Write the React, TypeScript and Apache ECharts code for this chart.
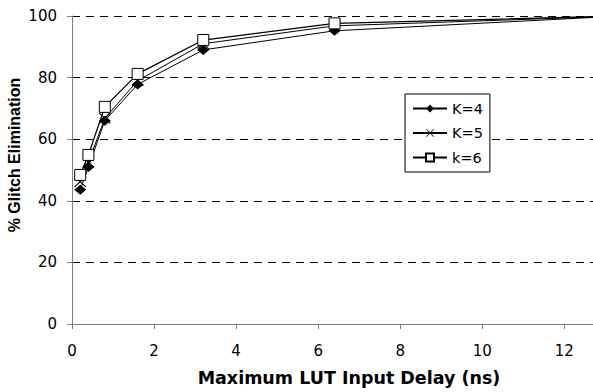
import React, { useEffect, useRef } from "react";
import * as echarts from "echarts";

const delays = [0.2, 0.4, 0.8, 1.6, 3.2, 6.4, 12.8];
const k4 = [43.6, 51, 66, 77.8, 89, 95.2, 99.6];
const k5 = [46.2, 52.5, 66.8, 79, 91, 96.8, 99.7];
const k6 = [48.4, 54.9, 70.5, 81.2, 92.2, 97.6, 99.8];
const xTicks = [0, 2, 4, 6, 8, 10, 12];

const FONT = "DejaVu Sans, sans-serif";
const ARIAL = "Liberation Sans, Arial, sans-serif";
const CROSS =
  "path://M0,0.8L0.8,0L6,5.2L11.2,0L12,0.8L6.8,6L12,11.2L11.2,12L6,6.8L0.8,12L0,11.2L5.2,6Z";

export default function App() {
  const ref = useRef<HTMLDivElement>(null);
  useEffect(() => {
    const chart = echarts.init(ref.current!, null, { renderer: "svg" });
    const mk = (arr: number[]) => arr.map((v, i) => [delays[i], v]);
    chart.setOption({
      animation: false,
      backgroundColor: "#fff",
      textStyle: { fontFamily: FONT },
      grid: { left: 72, top: 16, right: 0, bottom: 68, containLabel: false, outerBoundsMode: "none" },
      legend: {
        orient: "vertical",
        left: 405,
        top: 94,
        backgroundColor: "#fff",
        borderColor: "#000",
        borderWidth: 1,
        borderRadius: 0,
        padding: [7, 7, 7, 7],
        itemGap: 9.5,
        itemWidth: 34,
        itemHeight: 10,
        textStyle: { fontFamily: FONT, fontSize: 14.5, lineHeight: 14, color: "#000" },
        data: ["K=4", "K=5", "k=6"],
      },
      xAxis: {
        type: "value",
        min: 0,
        max: 12.7,
        interval: 2,
        name: "Maximum LUT Input Delay (ns)",
        nameLocation: "middle",
        nameGap: 45,
        nameMoveOverlap: false,
        nameTextStyle: { fontFamily: FONT, fontSize: 17.5, fontWeight: "bold", color: "#000", padding: [0, 0, 0, 33] },
        axisLine: { lineStyle: { color: "#808080", width: 1 } },
        axisTick: { show: true, length: 5, lineStyle: { color: "#808080" }, customValues: xTicks },
        axisLabel: { fontFamily: FONT, fontSize: 15, color: "#000", margin: 19, customValues: xTicks },
        splitLine: { show: false },
      },
      yAxis: {
        type: "value",
        min: 0,
        max: 100,
        interval: 20,
        name: "% Glitch Elimination",
        nameLocation: "middle",
        nameGap: 50,
        nameMoveOverlap: false,
        nameTextStyle: { fontFamily: ARIAL, fontSize: 16, fontWeight: "bold", color: "#000", padding: [0, 0, 0, 30] },
        axisLine: { show: true, lineStyle: { color: "#808080", width: 1 } },
        axisTick: { show: true, length: 5, lineStyle: { color: "#808080" } },
        axisLabel: { fontFamily: FONT, fontSize: 15, color: "#000", margin: 15 },
        splitLine: { show: true, lineStyle: { color: "#000", type: [8, 6], width: 1 } },
      },
      series: [
        {
          name: "K=4",
          type: "line",
          data: mk(k4),
          symbol: "diamond",
          symbolSize: [12, 10],
          itemStyle: { color: "#000", borderColor: "#000", borderWidth: 0 },
          lineStyle: { color: "#000", width: 1 },
        },
        {
          name: "K=5",
          type: "line",
          data: mk(k5),
          symbol: CROSS,
          symbolSize: [12, 11],
          itemStyle: { color: "#000", borderWidth: 0 },
          lineStyle: { color: "#000", width: 1 },
        },
        {
          name: "k=6",
          type: "line",
          data: mk(k6),
          symbol: "rect",
          symbolSize: 11,
          itemStyle: { color: "#fff", borderColor: "#000", borderWidth: 1 },
          lineStyle: { color: "#000", width: 1.3 },
        },
      ],
    });
    return () => chart.dispose();
  }, []);
  return <div ref={ref} style={{ width: 593, height: 392, position: "absolute", left: 0, top: 0 }} />;
}
